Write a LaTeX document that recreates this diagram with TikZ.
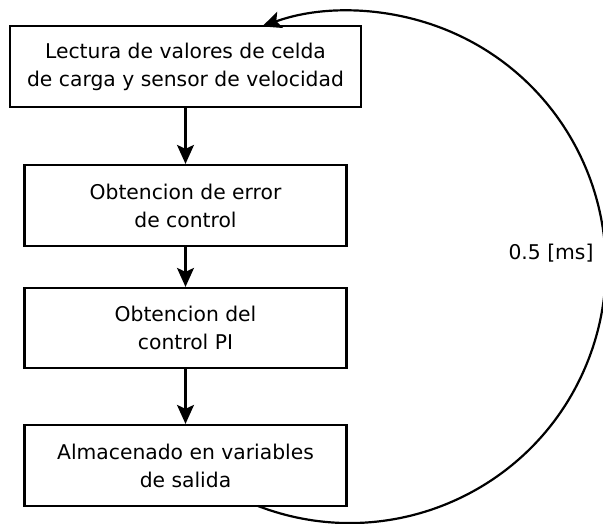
\documentclass[tikz,border=0pt]{standalone}
\usepackage{fontspec}
\setmainfont{DejaVu Sans}
\usetikzlibrary{arrows.meta}
\begin{document}
\begin{tikzpicture}[x=1pt,y=1pt,
  stepbox/.style={draw, line width=2.2pt, minimum height=81pt, align=center,
    font=\fontsize{20.3}{28}\selectfont, inner sep=0pt},
  conn/.style={line width=2.2pt, -{Stealth[length=19pt,width=17pt,inset=4pt]}}]
\useasboundingbox (0,0) rectangle (603,524);
\node[stepbox, minimum width=351pt] (b1) at (185.5,457.5) {Lectura de valores de celda\\de carga y sensor de velocidad};
\node[stepbox, minimum width=322pt] (b2) at (185.5,318.5) {Obtencion de error\\de control};
\node[stepbox, minimum width=322pt, minimum height=80pt] (b3) at (185.5,196) {Obtencion del\\control PI};
\node[stepbox, minimum width=322pt] (b4) at (185.5,58.5) {Almacenado en variables\\de salida};
\draw[conn] (b1.south) -- (b2.north);
\draw[conn] (b2.south) -- (b3.north);
\draw[conn] (b3.south) -- (b4.north);
\coordinate (s) at (258,18);
\draw[conn] (s) arc[start angle=-111, end angle=110, radius=256];
\node[font=\fontsize{20.3}{24}\selectfont] (lbl) at (551,271) {0.5 [ms]};
\end{tikzpicture}
\end{document}
